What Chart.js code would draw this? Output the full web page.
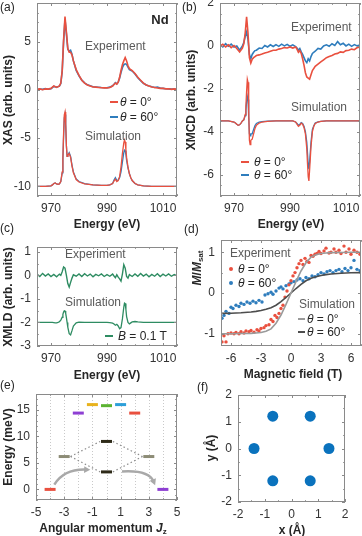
<!DOCTYPE html>
<html lang="en">
<head>
<meta charset="UTF-8">
<title>Nd XAS / XMCD / XMLD</title>
<script src="https://cdn.jsdelivr.net/npm/chart.js@4.4.1/dist/chart.umd.min.js"></script>
<style>
  html, body { margin: 0; padding: 0; background: #fff; }
  #fig { position: relative; width: 362px; height: 536px; overflow: hidden;
         font-family: 'Liberation Sans', Arial, sans-serif; }
  #fig canvas { position: absolute; }
  .t { position: absolute; font-size: 12px; line-height: 12px; color: #262626; white-space: nowrap; }
  .c { transform: translate(-50%, -50%); }
  .l { transform: translateY(-50%); }
  .r { transform: translate(-50%, -50%) rotate(-90deg); }
  .b { font-weight: bold; }
  .g { color: #5a5a5a; }
  .k { position: absolute; height: 2px; width: 8px; }
  .d { position: absolute; width: 4px; height: 4px; border-radius: 2px; }
  sub { font-size: 8px; line-height: 0; vertical-align: -2px; }
</style>
</head>
<body>
<div id="fig">
  <canvas id="cA"></canvas>
  <canvas id="cB"></canvas>
  <canvas id="cC"></canvas>
  <canvas id="cD"></canvas>
  <canvas id="cE"></canvas>
  <canvas id="cF"></canvas>

  <!-- panel labels -->
  <div class="t" style="left:0;top:1px">(a)</div>
  <div class="t" style="left:182px;top:1px">(b)</div>
  <div class="t" style="left:0;top:222px">(c)</div>
  <div class="t" style="left:184px;top:223px">(d)</div>
  <div class="t" style="left:0;top:379px">(e)</div>
  <div class="t" style="left:197px;top:381px">(f)</div>

  <!-- axis titles -->
  <div class="t b c" style="left:107px;top:224px">Energy (eV)</div>
  <div class="t b r" style="left:8px;top:100px">XAS (arb. units)</div>
  <div class="t b c" style="left:291px;top:224px">Energy (eV)</div>
  <div class="t b r" style="left:191px;top:100px">XMCD (arb. units)</div>
  <div class="t b c" style="left:107px;top:375px">Energy (eV)</div>
  <div class="t b r" style="left:8px;top:297px">XMLD (arb. units)</div>
  <div class="t b c" style="left:293px;top:374px">Magnetic field (T)</div>
  <div class="t b r" style="left:197px;top:268px"><i>M</i>/<i>M</i><sub>sat</sub></div>
  <div class="t b c" style="left:103px;top:528px">Angular momentum <i>J</i><sub>z</sub></div>
  <div class="t b r" style="left:8px;top:447px">Energy (meV)</div>
  <div class="t b c" style="left:292px;top:530px">x (Å)</div>
  <div class="t b r" style="left:211px;top:448px">y (Å)</div>

  <!-- (a) notes -->
  <div class="t b c" style="left:160px;top:20px;font-size:13px">Nd</div>
  <div class="t g l" style="left:85px;top:46px">Experiment</div>
  <div class="t g l" style="left:85px;top:136px">Simulation</div>
  <div class="k" style="left:110px;top:101px;background:#e9503f"></div>
  <div class="t l" style="left:120px;top:102px"><i>θ</i> = 0°</div>
  <div class="k" style="left:110px;top:116px;background:#2f7dbd"></div>
  <div class="t l" style="left:120px;top:117px"><i>θ</i> = 60°</div>

  <!-- (b) notes -->
  <div class="t g l" style="left:291px;top:27px">Experiment</div>
  <div class="t g l" style="left:291px;top:107px">Simulation</div>
  <div class="k" style="left:241px;top:161px;background:#e9503f"></div>
  <div class="t l" style="left:254px;top:162px"><i>θ</i> = 0°</div>
  <div class="k" style="left:241px;top:174px;background:#2f7dbd"></div>
  <div class="t l" style="left:254px;top:175px"><i>θ</i> = 60°</div>

  <!-- (c) notes -->
  <div class="t g l" style="left:65px;top:254px">Experiment</div>
  <div class="t g l" style="left:65px;top:302px">Simulation</div>
  <div class="k" style="left:105px;top:335px;background:#2e8c62"></div>
  <div class="t l" style="left:118px;top:336px"><i>B</i> = 0.1 T</div>

  <!-- (d) notes -->
  <div class="t g l" style="left:230px;top:253px">Experiment</div>
  <div class="d" style="left:229px;top:267px;background:#e9503f"></div>
  <div class="t l" style="left:238px;top:269px"><i>θ</i> = 0°</div>
  <div class="d" style="left:229px;top:281px;background:#2f7dbd"></div>
  <div class="t l" style="left:238px;top:283px"><i>θ</i> = 60°</div>
  <div class="t g l" style="left:299px;top:304px">Simulation</div>
  <div class="k" style="left:298px;top:318px;width:7px;background:#9a9a9a"></div>
  <div class="t l" style="left:307px;top:319px"><i>θ</i> = 0°</div>
  <div class="k" style="left:298px;top:331px;width:7px;background:#4d4d4d"></div>
  <div class="t l" style="left:307px;top:332px"><i>θ</i> = 60°</div>
</div>

<script>
// ---------- data ----------
const energyExp = [965,966,967,968,969,970,971,972,973,973.5,
  974,974.5,975,975.5,976,976.5,977,977.5,978,979,
  980,981,982,983,984,985,986,987,988,989,
  990,991,992,992.5,993,993.5,994,994.5,995,995.5,
  996,996.5,997,997.5,998,999,1000,1001,1002,1003,
  1004,1005,1006,1007,1008,1009,1010,1011,1012,1013,
  1014,1015];

const xasExp0 = [0.05,0.1,0.02,0.1,0.08,0.15,0.4,0.25,0.4,0.7,
  2.0,5.2,7.6,6.0,4.3,3.9,3.9,3.6,3.0,2.1,
  1.5,1.0,0.7,0.5,0.4,0.3,0.28,0.25,0.22,0.2,
  0.2,0.25,0.4,0.55,0.7,0.6,0.8,1.3,2.0,2.6,
  3.0,3.35,3.0,2.5,2.2,2.0,1.7,1.3,1.0,0.7,
  0.5,0.4,0.3,0.25,0.2,0.15,0.15,0.1,0.12,0.05,
  0.1,0.05];
const xasExp60 = [0.0,0.08,0.05,0.12,0.06,0.12,0.35,0.28,0.38,0.65,
  1.9,5.0,7.3,5.8,4.2,4.0,4.1,3.7,3.0,2.0,
  1.45,1.0,0.72,0.52,0.42,0.32,0.3,0.27,0.24,0.22,
  0.22,0.28,0.42,0.58,0.75,0.62,0.8,1.2,1.8,2.3,
  2.6,2.7,2.65,2.35,2.1,1.95,1.65,1.25,0.95,0.68,
  0.5,0.4,0.32,0.25,0.3,0.18,0.15,0.12,0.1,0.08,
  0.08,0.05];

const xmcdExp0 = [0.0,0.08,-0.05,0.05,-0.08,0.02,-0.12,-0.28,-0.1,0.1,
  0.6,1.35,0.6,-0.55,-0.8,-0.62,-0.55,-0.5,-0.45,-0.42,
  -0.38,-0.33,-0.3,-0.25,-0.2,-0.2,-0.15,-0.12,-0.08,-0.1,
  -0.05,-0.1,-0.05,-0.15,-0.3,-0.22,-0.35,-0.6,-0.9,-1.25,
  -1.45,-1.5,-1.55,-1.35,-1.15,-0.95,-0.85,-0.75,-0.65,-0.55,
  -0.5,-0.45,-0.38,-0.35,-0.28,-0.3,-0.22,-0.2,-0.15,-0.18,
  -0.08,-0.05];
const xmcdExp60 = [0.05,-0.05,0.1,-0.02,0.08,-0.05,0.0,-0.2,0.0,0.15,
  0.45,0.65,0.3,-0.4,-0.6,-0.4,-0.3,-0.22,-0.2,-0.1,
  -0.12,0.02,-0.05,0.05,-0.03,0.06,-0.02,0.08,0.0,0.07,
  -0.02,0.05,-0.03,-0.1,-0.2,-0.12,-0.28,-0.4,-0.55,-0.7,
  -0.78,-0.6,-0.7,-0.5,-0.35,-0.25,-0.12,-0.15,0.0,0.05,
  -0.02,0.1,0.02,0.2,0.05,0.12,0.0,0.08,-0.02,0.06,
  0.0,0.04];

const xmldExp = [0.05,-0.05,0.08,-0.03,0.06,-0.05,0.04,-0.06,0.05,0.0,
  0.15,0.35,0.3,0.0,-0.35,-0.5,-0.3,-0.12,0.02,-0.04,
  0.06,-0.05,0.07,-0.03,0.05,-0.06,0.04,-0.02,0.06,-0.05,
  0.03,-0.04,0.05,-0.03,-0.1,0.02,-0.08,-0.15,-0.25,0.05,
  0.45,0.3,-0.05,-0.12,0.03,-0.05,0.06,-0.04,0.08,-0.03,
  0.05,-0.06,0.04,-0.04,0.07,-0.05,0.05,-0.03,0.06,-0.04,
  0.03,-0.02];

const energySim = [965,968,970,970.5,971,971.5,972,972.5,973,973.5,
  974,974.25,974.5,974.75,975,975.25,975.5,975.75,976,976.5,
  977,977.5,978,979,980,982,985,988,990,991,
  992,992.5,993,993.5,994,994.5,995,995.5,996,996.25,
  996.5,996.75,997,997.5,998,998.5,999,1000,1001,1003,
  1006,1010,1015];

const xasSim0 = [-10,-10,-9.95,-9.85,-9.7,-9.65,-9.75,-9.8,-9.75,-9.5,
  -8.5,-7,-4.5,-2.6,-2.3,-3.5,-5.8,-6.9,-6.8,-6.6,
  -7.0,-7.9,-8.6,-9.3,-9.55,-9.75,-9.85,-9.9,-9.9,-9.85,
  -9.7,-9.45,-9.25,-9.5,-9.4,-9.0,-8.0,-6.6,-5.5,-5.2,
  -5.4,-6.2,-7.0,-8.0,-8.7,-9.1,-9.4,-9.7,-9.85,-9.95,
  -10,-10,-10];
const xasSim60 = [-10,-10,-9.95,-9.85,-9.7,-9.65,-9.75,-9.8,-9.75,-9.5,
  -8.6,-7.2,-4.8,-2.9,-2.55,-3.6,-5.8,-6.9,-6.8,-6.5,
  -6.9,-7.8,-8.5,-9.25,-9.5,-9.72,-9.85,-9.9,-9.9,-9.85,
  -9.7,-9.35,-9.1,-9.4,-9.35,-9.1,-8.5,-7.5,-6.5,-6.25,
  -6.3,-6.7,-7.3,-8.1,-8.7,-9.1,-9.4,-9.7,-9.85,-9.95,
  -10,-10,-10];

const xmcdSim0 = [-3.5,-3.5,-3.55,-3.6,-3.65,-3.7,-3.68,-3.6,-3.5,-3.45,
  -3.2,-2.8,-2.1,-1.55,-1.7,-3.0,-4.4,-4.6,-4.4,-4.35,
  -4.1,-3.85,-3.7,-3.6,-3.55,-3.52,-3.5,-3.5,-3.5,-3.5,
  -3.55,-3.65,-3.75,-3.7,-3.6,-3.65,-3.8,-4.1,-4.8,-5.5,
  -6.1,-6.3,-5.8,-4.7,-4.0,-3.75,-3.62,-3.55,-3.52,-3.5,
  -3.5,-3.5,-3.5];
const xmcdSim60 = [-3.5,-3.5,-3.55,-3.6,-3.65,-3.7,-3.68,-3.6,-3.5,-3.45,
  -3.25,-3.0,-2.6,-2.35,-2.5,-3.3,-4.1,-4.2,-4.1,-4.1,
  -3.9,-3.72,-3.62,-3.56,-3.53,-3.51,-3.5,-3.5,-3.5,-3.5,
  -3.55,-3.62,-3.7,-3.66,-3.58,-3.62,-3.75,-4.0,-4.5,-5.0,
  -5.5,-5.75,-5.4,-4.5,-3.9,-3.72,-3.6,-3.54,-3.52,-3.5,
  -3.5,-3.5,-3.5];

const xmldSim = [-2,-2,-2,-2,-2.01,-2.02,-2.02,-2.0,-1.97,-1.9,
  -1.78,-1.66,-1.56,-1.51,-1.52,-1.62,-1.8,-2.0,-2.2,-2.48,
  -2.53,-2.35,-2.15,-2.02,-1.99,-2.0,-2.0,-2.0,-2.0,-2.01,
  -2.03,-2.07,-2.12,-2.08,-2.15,-2.27,-2.22,-1.85,-1.35,-1.18,
  -1.2,-1.45,-1.75,-2.0,-2.06,-2.02,-1.98,-1.96,-1.98,-2.0,
  -2,-2,-2];

const fieldExp0 = [-6.9,-6.7,-6.5,-6.3,-6.0,-5.7,-5.5,-5.2,-5.0,-4.7,
  -4.5,-4.2,-4.0,-3.7,-3.4,-3.2,-3.0,-2.7,-2.5,-2.2,
  -2.0,-1.8,-1.6,-1.4,-1.2,-1.0,-0.8,-0.6,-0.4,-0.2,
  0.0,0.2,0.4,0.6,0.8,1.0,1.2,1.4,1.6,1.8,
  2.0,2.2,2.4,2.6,2.8,3.0,3.3,3.5,3.8,4.0,
  4.3,4.5,4.8,5.0,5.3,5.5,5.8,6.0,6.3,6.6,
  6.9];
const mExp0 = [-1.2,-1.05,-1.2,-1.0,-0.98,-1.0,-0.97,-1.0,-0.95,-0.98,
  -0.93,-0.95,-0.92,-0.96,-0.9,-0.93,-0.87,-0.85,-0.8,-0.78,
  -0.65,-0.7,-0.55,-0.6,-0.5,-0.38,-0.3,-0.1,0.05,0.2,
  0.3,0.42,0.5,0.62,0.72,0.8,0.7,0.85,0.78,0.75,
  0.92,0.9,0.95,0.97,1.02,0.97,1.03,1.1,0.98,1.0,
  1.08,1.0,1.05,0.97,1.15,1.0,1.08,0.95,1.05,1.0,
  0.95];
const fieldExp60 = [-6.9,-6.7,-6.5,-6.2,-6.0,-5.8,-5.5,-5.2,-5.0,-4.7,
  -4.4,-4.1,-3.8,-3.5,-3.2,-2.9,-2.6,-2.3,-2.0,-1.8,
  -1.5,-1.2,-1.0,-0.8,-0.5,-0.2,0.0,0.3,0.6,0.9,
  1.2,1.5,1.8,2.1,2.4,2.7,3.0,3.3,3.6,3.9,
  4.2,4.5,4.8,5.1,5.4,5.7,6.0,6.3,6.6,6.9];
const mExp60 = [-0.62,-0.55,-0.45,-0.5,-0.35,-0.38,-0.3,-0.33,-0.25,-0.28,
  -0.22,-0.25,-0.2,-0.24,-0.18,-0.22,-0.05,-0.02,0.02,-0.03,
  0.05,0.12,0.15,0.1,0.18,0.22,0.25,0.28,0.32,0.35,
  0.3,0.38,0.35,0.42,0.4,0.45,0.5,0.47,0.52,0.55,
  0.5,0.55,0.58,0.52,0.6,0.55,0.62,0.8,0.58,0.55];

const fieldSim = [-7,-6,-5,-4,-3.5,-3,-2.5,-2,-1.5,-1,-0.5,0,0.5,1,1.5,2,2.5,3,3.5,4,5,6,7];
const mSim0 = [-1,-1,-0.995,-0.99,-0.98,-0.97,-0.94,-0.88,-0.74,-0.54,-0.28,0,0.28,0.54,0.74,0.88,0.94,0.97,0.98,0.99,0.995,1,1];
const mSim60 = [-0.5,-0.495,-0.485,-0.465,-0.45,-0.43,-0.4,-0.36,-0.3,-0.21,-0.11,0,0.11,0.21,0.3,0.36,0.4,0.43,0.45,0.465,0.485,0.495,0.5];

// crystal-field levels (e)
const levelJz = [-4, 4, -3, 3, 0, 0, -2, 2, -1, 1, 0];
const levelE  = [0, 0, 6.2, 6.2, 3.3, 9.05, 14.4, 14.4, 16, 16, 15.8];
const levelColor = ['#e9503f','#8e3fd3','#8d8c76','#8d8c76','#2e2a18','#2e2a18',
                    '#8e3fd3','#e9503f','#e8b21c','#2c9fd9','#5bb331'];
const linkJz = [[-2.55,-0.45],[0.45,2.55],[-2.55,-0.45],[0.45,2.55]];
const linkE  = [[6.2,9.05],[9.05,6.2],[6.2,3.3],[3.3,6.2]];
const arrowPaths = [[[-3.7,0.9],[-3.0,3.9],[-1.15,3.7]], [[1.1,3.4],[3.0,3.7],[3.45,0.8]]];
const jzGrid = [-4,-3,-2,-1,0,1,2,3,4];

// ligand positions (f)
const atomX = [-0.7, 0.7, -1.4, 1.4, -0.7, 0.7];
const atomY = [1.21, 1.21, 0, 0, -1.21, -1.21];

// tick labels
const energyTicks = [970, 990, 1010];
const xasTicks = [-10, -5, 0, 5];
const xmcdTicks = [-6, -4, -2, 0, 2];
const xmldTicks = [-3, -2, -1, 0, 1];
const fieldTicks = [-6, -3, 0, 3, 6];
const mTicks = [-1, 0, 1];
const jzTicks = [-5, -3, -1, 1, 3, 5];
const levelTicks = [0, 5, 10, 15];
const posTicks = [-2, -1, 0, 1, 2];

// ---------- drawing ----------
const RED = '#e9503f', BLUE = '#2f7dbd', GREEN = '#2e8c62';
Chart.defaults.font.family = "'Liberation Sans', Arial, sans-serif";
Chart.defaults.font.size = 12;

const pts = (xs, ys) => xs.map((x, i) => ({x: x, y: ys[i]}));
const line = (xs, ys, color, w) => ({data: pts(xs, ys), showLine: true, borderColor: color,
  borderWidth: w, pointRadius: 0, pointHoverRadius: 0, tension: 0});

// box around the plot with inward ticks on all four sides
const framePlugin = {
  id: 'frame',
  afterDatasetsDraw(chart, args, opts) {
    const {ctx, chartArea: a} = chart;
    const sx = chart.scales.x, sy = chart.scales.y;
    ctx.save();
    ctx.strokeStyle = '#8a8a8a';
    ctx.lineWidth = 1;
    ctx.strokeRect(a.left + 0.5, a.top + 0.5, a.right - a.left - 1, a.bottom - a.top - 1);
    ctx.beginPath();
    const marks = (scale, minor) => {
      const out = scale.ticks.map(t => [t.value, 3]);
      if (minor) {
        for (let v = Math.ceil(scale.min / minor) * minor; v <= scale.max + 1e-9; v += minor) {
          if (!out.some(m => Math.abs(m[0] - v) < 1e-6)) out.push([v, 1.8]);
        }
      }
      return out;
    };
    marks(sx, opts.xMinor).forEach(([v, len]) => {
      const p = Math.round(sx.getPixelForValue(v)) + 0.5;
      ctx.moveTo(p, a.bottom); ctx.lineTo(p, a.bottom - len);
      ctx.moveTo(p, a.top); ctx.lineTo(p, a.top + len);
    });
    marks(sy, opts.yMinor).forEach(([v, len]) => {
      const p = Math.round(sy.getPixelForValue(v)) + 0.5;
      ctx.moveTo(a.left, p); ctx.lineTo(a.left + len, p);
      ctx.moveTo(a.right, p); ctx.lineTo(a.right - len, p);
    });
    ctx.stroke();
    ctx.restore();
  }
};

function makePanel(id, area, xa, ya, datasets, extra) {
  const box = {x: area.l - 40, y: area.t - 14, w: area.r - area.l + 64, h: area.b - area.t + 38};
  const cv = document.getElementById(id);
  cv.width = box.w; cv.height = box.h;
  cv.style.left = box.x + 'px'; cv.style.top = box.y + 'px';
  const yW = area.l - box.x, xH = box.y + box.h - area.b;
  const axis = (c, isX) => ({
    type: 'linear', min: c.min, max: c.max,
    grid: {display: false, drawTicks: false},
    border: {display: false},
    ticks: {padding: isX ? 5 : 6, color: '#333', autoSkip: false, maxRotation: 0,
            font: {size: 12}, callback: v => String(v)},
    afterBuildTicks: s => { s.ticks = c.ticks.map(v => ({value: v})); },
    afterFit: s => {
      if (isX) { s.height = xH; s.paddingLeft = 0; s.paddingRight = 0; }
      else { s.width = yW; s.paddingTop = 0; s.paddingBottom = 0; }
    }
  });
  return new Chart(cv, {
    type: 'scatter',
    data: {datasets: datasets},
    options: {
      responsive: false, animation: false, devicePixelRatio: 1,
      layout: {padding: {left: 0, top: area.t - box.y, right: box.x + box.w - area.r, bottom: 0}},
      plugins: {legend: {display: false}, tooltip: {enabled: false},
                frame: {xMinor: xa.minor, yMinor: ya.minor}},
      scales: {x: axis(xa, true), y: axis(ya, false)}
    },
    plugins: [framePlugin].concat(extra || [])
  });
}

const energyAxis = {min: 965, max: 1015, ticks: energyTicks, minor: 5};

// (a) XAS
makePanel('cA', {l: 37, t: 3, r: 177, b: 196}, energyAxis,
  {min: -11, max: 9, ticks: xasTicks, minor: 1}, [
    line(energyExp, xasExp0, RED, 1.6),
    line(energyExp, xasExp60, BLUE, 1.6),
    line(energySim, xasSim0, RED, 1.3),
    line(energySim, xasSim60, BLUE, 1.3)
  ]);

// (b) XMCD
makePanel('cB', {l: 220, t: 3, r: 360, b: 196}, energyAxis,
  {min: -7, max: 2, ticks: xmcdTicks, minor: 0.5}, [
    line(energyExp, xmcdExp0, RED, 1.6),
    line(energyExp, xmcdExp60, BLUE, 1.6),
    line(energySim, xmcdSim0, RED, 1.3),
    line(energySim, xmcdSim60, BLUE, 1.3)
  ]);

// (c) XMLD
makePanel('cC', {l: 37, t: 247, r: 177, b: 346}, energyAxis,
  {min: -3, max: 1.2, ticks: xmldTicks, minor: 0.5}, [
    line(energyExp, xmldExp, GREEN, 1.4),
    line(energySim, xmldSim, GREEN, 1.3)
  ]);

// (d) magnetisation
makePanel('cD', {l: 221, t: 240, r: 361, b: 346},
  {min: -7, max: 7, ticks: fieldTicks, minor: 1},
  {min: -1.3, max: 1.3, ticks: mTicks, minor: 0.5}, [
    line(fieldSim, mSim0, '#9a9a9a', 1.6),
    line(fieldSim, mSim60, '#4d4d4d', 1.6),
    {data: pts(fieldExp0, mExp0), pointRadius: 1.7, pointBackgroundColor: RED, pointBorderWidth: 0},
    {data: pts(fieldExp60, mExp60), pointRadius: 1.7, pointBackgroundColor: BLUE, pointBorderWidth: 0}
  ]);

// (e) levels
const levelPlugin = {
  id: 'levelDecor',
  beforeDatasetsDraw(chart) {
    const {ctx, chartArea: a, scales: {x}} = chart;
    ctx.save();
    ctx.strokeStyle = '#c9c9c9'; ctx.lineWidth = 1; ctx.setLineDash([1, 2]);
    ctx.beginPath();
    jzGrid.forEach(v => {
      const p = Math.round(x.getPixelForValue(v)) + 0.5;
      ctx.moveTo(p, a.top); ctx.lineTo(p, a.bottom);
    });
    ctx.stroke();
    ctx.restore();
  },
  afterDatasetsDraw(chart) {
    const {ctx, scales: {x, y}} = chart;
    ctx.save();
    ctx.strokeStyle = '#a9a9a9'; ctx.fillStyle = '#a9a9a9'; ctx.lineWidth = 2.5;
    arrowPaths.forEach(path => {
      const P = path.map(q => [x.getPixelForValue(q[0]), y.getPixelForValue(q[1])]);
      const ang = Math.atan2(P[2][1] - P[1][1], P[2][0] - P[1][0]);
      const back = [P[2][0] - 4 * Math.cos(ang), P[2][1] - 4 * Math.sin(ang)];
      ctx.beginPath();
      ctx.moveTo(P[0][0], P[0][1]);
      ctx.quadraticCurveTo(P[1][0], P[1][1], back[0], back[1]);
      ctx.stroke();
      ctx.beginPath();
      ctx.moveTo(P[2][0], P[2][1]);
      ctx.lineTo(P[2][0] - 7 * Math.cos(ang - 0.5), P[2][1] - 7 * Math.sin(ang - 0.5));
      ctx.lineTo(P[2][0] - 7 * Math.cos(ang + 0.5), P[2][1] - 7 * Math.sin(ang + 0.5));
      ctx.closePath();
      ctx.fill();
    });
    ctx.restore();
  }
};
const levelSets = [{data: pts(levelJz, levelE), pointStyle: 'line', pointRadius: 5.5,
  pointBorderWidth: 3, pointBorderColor: levelColor, pointBackgroundColor: levelColor}];
linkJz.forEach((xs, i) => {
  const d = line(xs, linkE[i], '#8c8c8c', 1.2);
  d.borderDash = [1.5, 2.5];
  levelSets.push(d);
});
makePanel('cE', {l: 36, t: 394, r: 177, b: 500},
  {min: -5, max: 5, ticks: jzTicks, minor: 1},
  {min: -2, max: 18, ticks: levelTicks, minor: 1}, levelSets, [levelPlugin]);

// (f) ligand positions
makePanel('cF', {l: 238, t: 395, r: 345, b: 502},
  {min: -2, max: 2, ticks: posTicks, minor: 0.5},
  {min: -2, max: 2, ticks: posTicks, minor: 0.5}, [
    {data: pts(atomX, atomY), pointRadius: 5.5, pointBackgroundColor: '#0a72bd', pointBorderWidth: 0}
  ]);
</script>
</body>
</html>
